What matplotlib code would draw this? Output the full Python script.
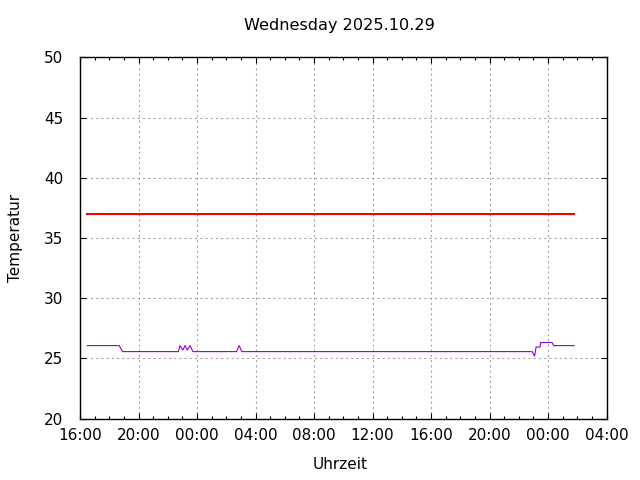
import matplotlib
matplotlib.use("Agg")
import matplotlib.pyplot as plt
import matplotlib.dates as mdates
import pandas as pd

# purple sensor series (gnuplot-like output)
temp_times = ["2025-10-28 16:30", "2025-10-28 18:41", "2025-10-28 18:54",
              "2025-10-28 22:44", "2025-10-28 22:50", "2025-10-28 23:02",
              "2025-10-28 23:11", "2025-10-28 23:20", "2025-10-28 23:32",
              "2025-10-28 23:43", "2025-10-29 02:42", "2025-10-29 02:53",
              "2025-10-29 03:04", "2025-10-29 22:55", "2025-10-29 23:05",
              "2025-10-29 23:11", "2025-10-29 23:27", "2025-10-29 23:30",
              "2025-10-30 00:17", "2025-10-30 00:23", "2025-10-30 01:47"]
temp_values = [26.06, 26.06, 25.56,
               25.56, 26.06, 25.69,
               26.06, 25.69, 26.06,
               25.56, 25.56, 26.06,
               25.56, 25.56, 25.19,
               25.94, 25.94, 26.31,
               26.31, 26.06, 26.06]

# red reference line
ref_times = ["2025-10-28 16:30", "2025-10-30 01:47"]
ref_values = [37.0, 37.0]

x_start = "2025-10-28 16:00"
x_end = "2025-10-30 04:00"
y_min, y_max = 20, 50

plt.rcParams["font.family"] = "DejaVu Sans"
plt.rcParams["font.size"] = 11

fig = plt.figure(figsize=(6.4, 4.8), dpi=100)
ax = fig.add_axes([0.125, 0.128, 0.8227, 0.7526])

ax.plot(pd.to_datetime(ref_times), ref_values, color="#ff0000", lw=1.5)
ax.plot(pd.to_datetime(temp_times), temp_values, color="#9400d3", lw=0.8)

ax.set_xlim(pd.Timestamp(x_start), pd.Timestamp(x_end))
ax.set_ylim(y_min, y_max)

ax.xaxis.set_major_locator(mdates.HourLocator(byhour=[0, 4, 8, 12, 16, 20]))
ax.xaxis.set_minor_locator(mdates.HourLocator())
ax.xaxis.set_major_formatter(mdates.DateFormatter("%H:%M"))
ax.set_yticks(range(y_min, y_max + 1, 5))

ax.tick_params(which="both", direction="in", top=True, right=True)
ax.tick_params(which="major", length=4.5, width=0.8)
ax.tick_params(which="minor", length=2.2, width=0.8)
ax.tick_params(axis="x", which="major", pad=7)
ax.tick_params(axis="y", which="major", pad=12)

ax.grid(True, which="major", color="#a0a0a0", lw=0.75, linestyle=(0, (2, 3)))
for s in ax.spines.values():
    s.set_linewidth(1.0)

fig.text(0.531, 0.946, "Wednesday 2025.10.29", ha="center", va="center", fontsize=11.6)
fig.text(0.532, 0.033, "Uhrzeit", ha="center", va="center")
fig.text(0.025, 0.504, "Temperatur", ha="center", va="center", rotation=90)

fig.savefig("out.png", dpi=100)
